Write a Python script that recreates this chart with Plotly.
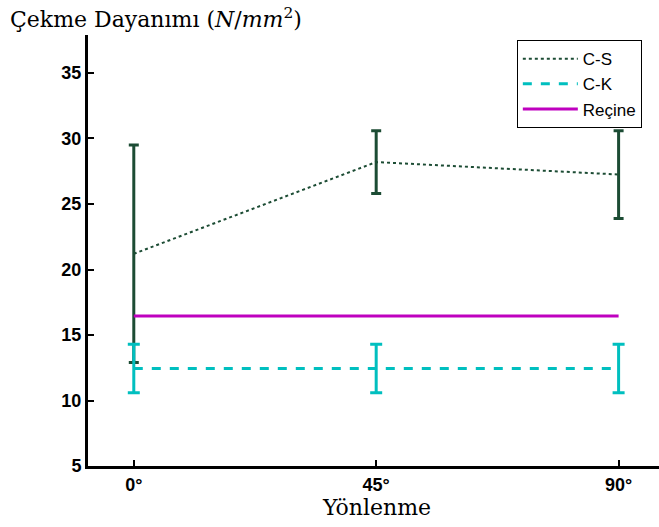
import plotly.graph_objects as go

angles = [0, 45, 90]
tick_labels = ["0°", "45°", "90°"]

cs_mean = [21.2, 28.2, 27.25]
cs_err = [8.3, 2.4, 3.35]

ck_mean = [12.45, 12.45, 12.45]
ck_err = [1.85, 1.85, 1.85]

recine = [16.45, 16.45, 16.45]

C_CS = "#1c4c34"
C_CK = "#00bfbf"
C_R = "#bf00bf"

fig = go.Figure()
fig.add_trace(go.Scatter(
    x=angles, y=cs_mean, name="C-S", mode="lines",
    line=dict(color=C_CS, width=2, dash="dot"),
    error_y=dict(type="data", array=cs_err, color=C_CS, thickness=3, width=5),
))
fig.add_trace(go.Scatter(
    x=angles, y=ck_mean, name="C-K", mode="lines",
    line=dict(color=C_CK, width=3, dash="dash"),
    error_y=dict(type="data", array=ck_err, color=C_CK, thickness=3, width=6),
))
fig.add_trace(go.Scatter(
    x=angles, y=recine, name="Reçine", mode="lines",
    line=dict(color=C_R, width=3),
))

fig.update_layout(
    width=659, height=527,
    margin=dict(l=88, r=0, t=35, b=61),
    plot_bgcolor="white", paper_bgcolor="white",
    showlegend=True,
    legend=dict(
        x=0.751, y=0.988, xanchor="left", yanchor="top",
        bordercolor="black", borderwidth=1, bgcolor="white",
        font=dict(family="Liberation Sans", size=17, color="black"),
        tracegroupgap=0, itemwidth=55,
    ),
    xaxis=dict(
        range=[-8.5, 97.5], tickvals=angles, ticktext=tick_labels,
        showgrid=False, zeroline=False, showline=True, linecolor="black", linewidth=3,
        ticks="inside", ticklen=6, tickwidth=2, tickcolor="black",
        tickfont=dict(family="Liberation Sans", size=18, color="black", weight="bold"),
    ),
    yaxis=dict(
        range=[5, 37.9], tickvals=[5, 10, 15, 20, 25, 30, 35],
        showgrid=False, zeroline=False, showline=True, linecolor="black", linewidth=3,
        ticks="inside", ticklen=6, tickwidth=2, tickcolor="black",
        tickfont=dict(family="Liberation Sans", size=18, color="black", weight="bold"),
    ),
    annotations=[
        dict(text="Çekme Dayanımı (<i>N</i>/<i>mm</i><sup>2</sup>)",
             xref="paper", yref="paper", x=-0.14, y=1.0, xanchor="left", yanchor="bottom",
             yshift=1, showarrow=False,
             font=dict(family="DejaVu Serif", size=22, color="black")),
        dict(text="Yönlenme", xref="x", yref="paper", x=45, y=0, yanchor="top",
             yshift=-27, showarrow=False,
             font=dict(family="DejaVu Serif", size=22, color="black")),
    ],
)

fig.write_html("out.html")
